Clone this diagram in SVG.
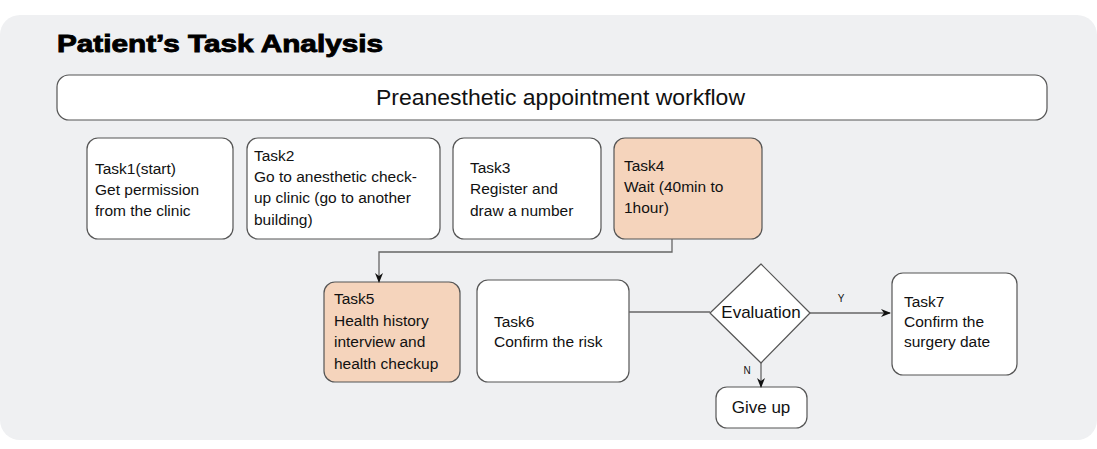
<svg xmlns="http://www.w3.org/2000/svg" width="1097" height="449" viewBox="0 0 1097 449">
<style>
.node{fill:#fff;stroke:#555;stroke-width:1.2}
.hi{fill:#F5D4BC}
.t{font-family:"Liberation Sans",Arial,sans-serif;font-size:15.5px;fill:#111}
.big{font-size:17px}
.hd{font-size:22px}
.c{fill:none;stroke:#666;stroke-width:1.3}
.lbl{font-family:"Liberation Sans",Arial,sans-serif;font-size:10px;fill:#111}
</style>
<defs>
<marker id="ah" markerWidth="10" markerHeight="10" refX="9" refY="5" orient="auto" markerUnits="userSpaceOnUse">
<path d="M0,1 L10,5 L0,9 L3,5 Z" fill="#111"/>
</marker>
</defs>
<rect x="0" y="15" width="1097" height="425" rx="20" fill="#EFF0F2"/>
<text x="57" y="52" font-family="'Liberation Sans',Arial,sans-serif" font-weight="bold" font-size="24" fill="#000" stroke="#000" stroke-width="0.9" textLength="326" lengthAdjust="spacingAndGlyphs">Patient’s Task Analysis</text>
<g id="header">
<rect class="node" x="57" y="75" width="990" height="45" rx="12"/>
<text class="t hd" x="376" y="105" textLength="369" lengthAdjust="spacingAndGlyphs">Preanesthetic appointment workflow</text>
</g>
<g id="task1">
<rect class="node" x="87" y="138" width="146" height="101" rx="11"/>
<text class="t" x="95" y="174">Task1(start)</text>
<text class="t" x="95" y="195">Get permission</text>
<text class="t" x="95" y="216">from the clinic</text>
</g>
<g id="task2">
<rect class="node" x="247" y="138" width="193" height="101" rx="11"/>
<text class="t" x="254" y="161">Task2</text>
<text class="t" x="254" y="182">Go to anesthetic check-</text>
<text class="t" x="254" y="203">up clinic (go to another</text>
<text class="t" x="254" y="225">building)</text>
</g>
<g id="task3">
<rect class="node" x="453" y="138" width="148" height="101" rx="11"/>
<text class="t" x="470" y="173">Task3</text>
<text class="t" x="470" y="194">Register and</text>
<text class="t" x="470" y="216">draw a number</text>
</g>
<g id="task4">
<rect class="node hi" x="614" y="138" width="148" height="101" rx="11"/>
<text class="t" x="624" y="171">Task4</text>
<text class="t" x="624" y="192">Wait (40min to</text>
<text class="t" x="624" y="213">1hour)</text>
</g>
<g id="task5">
<rect class="node hi" x="324" y="282" width="136" height="100" rx="11"/>
<text class="t" x="334" y="304">Task5</text>
<text class="t" x="334" y="326">Health history</text>
<text class="t" x="334" y="347">interview and</text>
<text class="t" x="334" y="369">health checkup</text>
</g>
<g id="task6">
<rect class="node" x="477" y="280" width="152" height="102" rx="11"/>
<text class="t" x="494" y="327">Task6</text>
<text class="t" x="494" y="347">Confirm the risk</text>
</g>
<g id="evaluation">
<path class="node" d="M761,264 L810,313 L761,363 L710,313 Z" stroke-linejoin="round"/>
<text class="t big" x="761" y="318" text-anchor="middle">Evaluation</text>
</g>
<g id="task7">
<rect class="node" x="892" y="273" width="125" height="102" rx="11"/>
<text class="t" x="904" y="307">Task7</text>
<text class="t" x="904" y="327">Confirm the</text>
<text class="t" x="904" y="347">surgery date</text>
</g>
<g id="giveup">
<rect class="node" x="716" y="387" width="91" height="41" rx="11"/>
<text class="t big" x="761" y="413" text-anchor="middle">Give up</text>
</g>
<g id="connectors">
<path class="c" d="M672,239 V252 H379 V282" marker-end="url(#ah)"/>
<path class="c" d="M629,312 H710"/>
<path class="c" d="M810,313 H890" marker-end="url(#ah)"/>
<path class="c" d="M761,363 V387" marker-end="url(#ah)"/>
<text class="lbl" x="841" y="302" text-anchor="middle">Y</text>
<text class="lbl" x="747" y="374" text-anchor="middle">N</text>
</g>
</svg>
